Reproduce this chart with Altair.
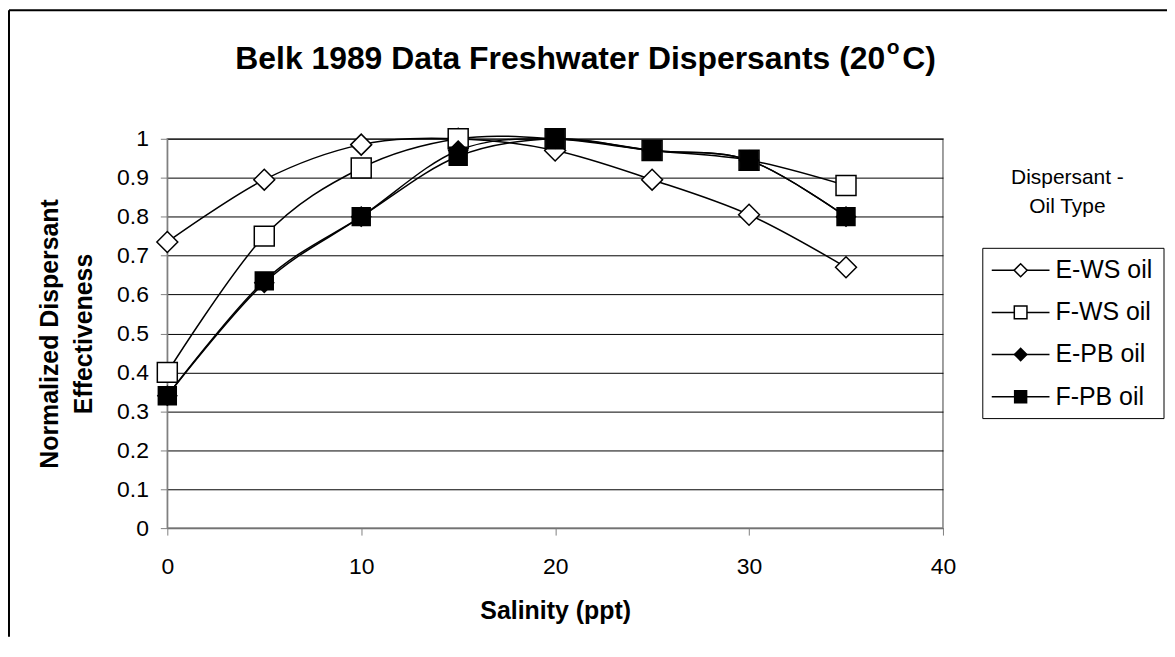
import altair as alt
import pandas as pd

# ---------------- data ----------------
salinity = [0, 5, 10, 15, 20, 25, 30, 35]
e_ws = [0.735, 0.895, 0.985, 1.0, 0.97, 0.895, 0.805, 0.67]
f_ws = [0.40, 0.75, 0.925, 1.0, 1.0, 0.97, 0.945, 0.88]
e_pb = [0.34, 0.63, 0.80, 0.97, 1.0, 0.97, 0.945, 0.80]
f_pb = [0.34, 0.635, 0.80, 0.955, 1.0, 0.97, 0.945, 0.80]

series_names = ["E-WS oil", "F-WS oil", "E-PB oil", "F-PB oil"]
x_ticks = [0, 10, 20, 30, 40]
y_ticks = [0, 0.1, 0.2, 0.3, 0.4, 0.5, 0.6, 0.7, 0.8, 0.9, 1.0]

title_main = "Belk 1989 Data Freshwater Dispersants (20"
title_sup = "o"
title_end = "C)"
legend_title = ["Dispersant -", "Oil Type"]
x_title = "Salinity (ppt)"
y_title = ["Normalized Dispersant", "Effectiveness"]

rows = []
for name, vals in zip(series_names, [e_ws, f_ws, e_pb, f_pb]):
    for s, v in zip(salinity, vals):
        rows.append({"series": name, "salinity": s, "value": v})
df = pd.DataFrame(rows)
leg_df = pd.DataFrame({"series": series_names})
one = pd.DataFrame({"a": [0]})

FONT = "Liberation Sans"
W, H = 779, 391

sw_scale = alt.Scale(domain=series_names, range=[1.5, 1.5, 4, 4])
shape_scale = alt.Scale(domain=series_names, range=["diamond", "square", "diamond", "square"])
fill_scale = alt.Scale(domain=series_names, range=["white", "white", "black", "black"])

x_axis = alt.Axis(
    values=x_ticks, title=x_title, grid=False, labelFlush=False,
    labelFontSize=23, labelPadding=21, tickSize=7, tickColor="#808080",
    domainColor="#808080", titleFontSize=25, titleFontWeight="bold",
    titleX=W / 2, titleY=83, titleBaseline="middle", labelOverlap=False,
)
y_axis = alt.Axis(
    values=y_ticks, format=".1~f", title=y_title, grid=True, gridColor="black",
    gridWidth=1, labelFlush=False, labelOverlap=False, tickCount=11,
    labelFontSize=23, labelPadding=12, tickSize=7, tickColor="#808080",
    domainColor="#808080", titleFontSize=25, titleFontWeight="bold",
    titleAngle=270, titleX=-118, titleY=H / 2, titleAlign="center",
    titleBaseline="middle", titleLineHeight=34,
)
x_scale = alt.Scale(domain=[0, 40], nice=False, zero=False)
y_scale = alt.Scale(domain=[0, 1], nice=False)

lines = alt.Chart(df).mark_line(interpolate="cardinal", color="black").encode(
    x=alt.X("salinity:Q", scale=x_scale, axis=x_axis),
    y=alt.Y("value:Q", scale=y_scale, axis=y_axis),
    detail="series:N",
    strokeWidth=alt.StrokeWidth("series:N", scale=sw_scale, legend=None),
)
pts = alt.Chart(df).mark_point(filled=True, stroke="black", strokeWidth=1.5, opacity=1).encode(
    x=alt.X("salinity:Q", scale=x_scale, axis=x_axis),
    y=alt.Y("value:Q", scale=y_scale, axis=y_axis),
    shape=alt.Shape("series:N", scale=shape_scale, legend=None),
    fill=alt.Fill("series:N", scale=fill_scale, legend=None),
    size=alt.Size("series:O", scale=alt.Scale(domain=series_names, range=[441, 324, 400, 361]), legend=None),
)
main = alt.layer(lines, pts)

# ---------------- legend ----------------
leg_y = alt.Y("series:N", scale=alt.Scale(type="point", domain=series_names, range=[132, 259], padding=0), axis=None)
box = alt.Chart(one).mark_rect(fill="white", stroke="black", strokeWidth=1).encode(
    x=alt.value(819), x2=alt.value(1001), y=alt.value(110), y2=alt.value(281)
)
leg_rule = alt.Chart(leg_df).mark_rule(color="black").encode(
    x=alt.value(828), x2=alt.value(886), y=leg_y,
    strokeWidth=alt.StrokeWidth("series:N", scale=sw_scale, legend=None),
)
leg_pts = alt.Chart(leg_df).mark_point(filled=True, stroke="black", strokeWidth=1.5, opacity=1).encode(
    x=alt.value(857), y=leg_y,
    shape=alt.Shape("series:N", scale=shape_scale, legend=None),
    fill=alt.Fill("series:N", scale=fill_scale, legend=None),
    size=alt.Size("series:O", scale=alt.Scale(domain=series_names, range=[170, 144, 170, 160]), legend=None),
)
leg_text = alt.Chart(leg_df).mark_text(align="left", baseline="middle", fontSize=25, font=FONT, color="black").encode(
    x=alt.value(892), y=leg_y, text="series:N"
)
leg_t1 = alt.Chart(one).mark_text(align="center", baseline="middle", fontSize=21, font=FONT, color="black").encode(
    x=alt.value(904), y=alt.value(39), text=alt.value(legend_title[0])
)
leg_t2 = alt.Chart(one).mark_text(align="center", baseline="middle", fontSize=21, font=FONT, color="black").encode(
    x=alt.value(904), y=alt.value(69), text=alt.value(legend_title[1])
)

# ---------------- title ----------------
t_main = alt.Chart(one).mark_text(align="right", baseline="alphabetic", fontSize=32, fontWeight="bold", font=FONT, color="black").encode(
    x=alt.value(721), y=alt.value(-70), text=alt.value(title_main)
)
t_sup = alt.Chart(one).mark_text(align="center", baseline="alphabetic", fontSize=21, fontWeight="bold", font=FONT, color="black").encode(
    x=alt.value(729), y=alt.value(-85), text=alt.value(title_sup)
)
t_end = alt.Chart(one).mark_text(align="left", baseline="alphabetic", fontSize=32, fontWeight="bold", font=FONT, color="black").encode(
    x=alt.value(738), y=alt.value(-70), text=alt.value(title_end)
)

# ---------------- outer border (left & top edges) ----------------
b_left = alt.Chart(one).mark_rule(color="black", strokeWidth=2).encode(
    x=alt.value(-159), y=alt.value(-129), y2=alt.value(500)
)
b_top = alt.Chart(one).mark_rule(color="black", strokeWidth=2).encode(
    x=alt.value(-159), x2=alt.value(1004), y=alt.value(-129)
)

chart = alt.layer(
    main, box, leg_rule, leg_pts, leg_text, leg_t1, leg_t2, t_main, t_sup, t_end, b_left, b_top
).resolve_scale(
    y="independent", size="independent"
).properties(
    width=W, height=H,
    autosize=alt.AutoSizeParams(type="none"),
    padding={"left": 160, "top": 130, "right": 225, "bottom": 109},
).configure(
    font=FONT, background="white"
).configure_axis(
    labelFont=FONT, titleFont=FONT, labelColor="black", titleColor="black"
).configure_view(
    stroke="#808080", strokeWidth=1.5
)

chart.save("out.html", embed_options={"renderer": "svg", "actions": False})
